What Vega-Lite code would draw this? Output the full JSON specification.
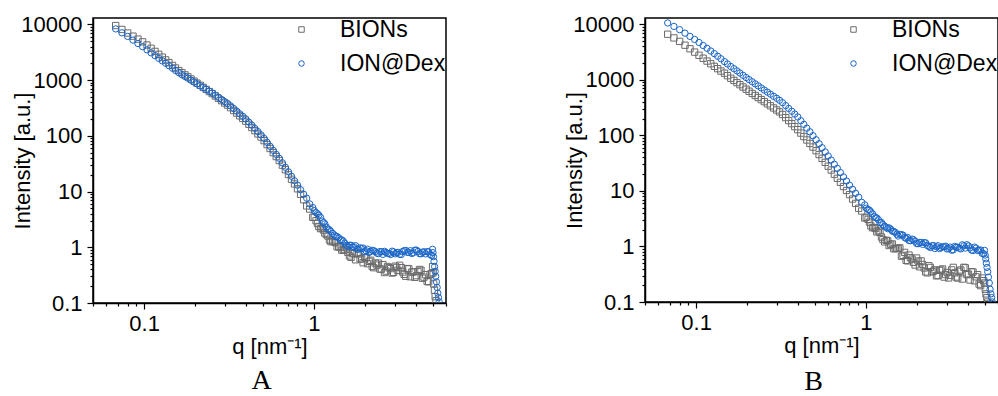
{
"$schema": "https://vega.github.io/schema/vega-lite/v6.json",
"padding": {"left": 11, "top": 12, "right": 0, "bottom": 0},
"spacing": 115,
"config": {
  "view": {"stroke": "black", "strokeWidth": 1.5},
  "font": "Liberation Sans",
  "axis": {"labelFontSize": 22, "titleFontSize": 22, "labelFont": "Liberation Sans", "titleFont": "Liberation Sans", "titleFontWeight": "normal", "labelColor": "black", "titleColor": "black", "domainColor": "black", "tickColor": "black", "domainWidth": 1.5, "tickWidth": 1.2, "labelPadding": 4, "grid": false, "labelOverlap": false, "labelBound": false, "labelFlush": false},
  "legend": {"title": null, "orient": "top-right", "offset": 0, "padding": 0, "labelFontSize": 23, "labelFont": "Liberation Sans", "labelColor": "black", "symbolSize": 30, "symbolStrokeWidth": 1, "labelOffset": 27, "rowPadding": 10}
},
"resolve": {"legend": {"color": "independent", "shape": "independent"}},
"datasets": {
"A": [
{"s":"BIONs","q":0.068,"I":9510},{"s":"BIONs","q":0.074,"I":8100},{"s":"BIONs","q":0.080,"I":6990},{"s":"BIONs","q":0.086,"I":6140},{"s":"BIONs","q":0.092,"I":5440},{"s":"BIONs","q":0.098,"I":4850},{"s":"BIONs","q":0.104,"I":4260},{"s":"BIONs","q":0.110,"I":3720},{"s":"BIONs","q":0.116,"I":3270},{"s":"BIONs","q":0.122,"I":2900},{"s":"BIONs","q":0.128,"I":2580},{"s":"BIONs","q":0.134,"I":2300},{"s":"BIONs","q":0.140,"I":2060},{"s":"BIONs","q":0.147,"I":1830},{"s":"BIONs","q":0.153,"I":1650},{"s":"BIONs","q":0.160,"I":1480},{"s":"BIONs","q":0.167,"I":1360},{"s":"BIONs","q":0.174,"I":1240},{"s":"BIONs","q":0.181,"I":1145},{"s":"BIONs","q":0.189,"I":1046},{"s":"BIONs","q":0.197,"I":958},{"s":"BIONs","q":0.205,"I":881},{"s":"BIONs","q":0.214,"I":806},{"s":"BIONs","q":0.223,"I":739},{"s":"BIONs","q":0.232,"I":680},{"s":"BIONs","q":0.242,"I":622},{"s":"BIONs","q":0.252,"I":571},{"s":"BIONs","q":0.263,"I":518},{"s":"BIONs","q":0.274,"I":471},{"s":"BIONs","q":0.286,"I":427},{"s":"BIONs","q":0.298,"I":388},{"s":"BIONs","q":0.310,"I":355},{"s":"BIONs","q":0.323,"I":320},{"s":"BIONs","q":0.337,"I":285},{"s":"BIONs","q":0.351,"I":256},{"s":"BIONs","q":0.366,"I":228},{"s":"BIONs","q":0.381,"I":205},{"s":"BIONs","q":0.397,"I":183},{"s":"BIONs","q":0.414,"I":161},{"s":"BIONs","q":0.431,"I":141},{"s":"BIONs","q":0.449,"I":124},{"s":"BIONs","q":0.468,"I":108},{"s":"BIONs","q":0.488,"I":94.9},{"s":"BIONs","q":0.509,"I":81.9},{"s":"BIONs","q":0.530,"I":69.6},{"s":"BIONs","q":0.552,"I":59.2},{"s":"BIONs","q":0.576,"I":49.9},{"s":"BIONs","q":0.600,"I":42.4},{"s":"BIONs","q":0.625,"I":36.0},{"s":"BIONs","q":0.652,"I":29.7},{"s":"BIONs","q":0.679,"I":24.6},{"s":"BIONs","q":0.708,"I":20.2},{"s":"BIONs","q":0.738,"I":16.6},{"s":"BIONs","q":0.769,"I":13.7},{"s":"BIONs","q":0.801,"I":11.2},{"s":"BIONs","q":0.835,"I":8.93},{"s":"BIONs","q":0.870,"I":7.12},{"s":"BIONs","q":0.907,"I":5.52},{"s":"BIONs","q":0.945,"I":4.85},{"s":"BIONs","q":0.985,"I":3.45},{"s":"BIONs","q":1.03,"I":3.00},{"s":"BIONs","q":1.07,"I":2.36},{"s":"BIONs","q":1.12,"I":2.22},{"s":"BIONs","q":1.16,"I":1.80},{"s":"BIONs","q":1.21,"I":1.59},{"s":"BIONs","q":1.26,"I":1.26},{"s":"BIONs","q":1.32,"I":1.24},{"s":"BIONs","q":1.37,"I":1.02},{"s":"BIONs","q":1.43,"I":1.01},{"s":"BIONs","q":1.49,"I":0.885},{"s":"BIONs","q":1.55,"I":0.98},{"s":"BIONs","q":1.62,"I":0.70},{"s":"BIONs","q":1.69,"I":0.767},{"s":"BIONs","q":1.76,"I":0.596},{"s":"BIONs","q":1.83,"I":0.760},{"s":"BIONs","q":1.91,"I":0.615},{"s":"BIONs","q":1.99,"I":0.655},{"s":"BIONs","q":2.07,"I":0.507},{"s":"BIONs","q":2.16,"I":0.585},{"s":"BIONs","q":2.25,"I":0.430},{"s":"BIONs","q":2.35,"I":0.479},{"s":"BIONs","q":2.45,"I":0.407},{"s":"BIONs","q":2.55,"I":0.489},{"s":"BIONs","q":2.66,"I":0.374},{"s":"BIONs","q":2.77,"I":0.429},{"s":"BIONs","q":2.89,"I":0.345},{"s":"BIONs","q":3.01,"I":0.457},{"s":"BIONs","q":3.13,"I":0.386},{"s":"BIONs","q":3.27,"I":0.431},{"s":"BIONs","q":3.40,"I":0.327},{"s":"BIONs","q":3.55,"I":0.415},{"s":"BIONs","q":3.70,"I":0.296},{"s":"BIONs","q":3.85,"I":0.362},{"s":"BIONs","q":4.02,"I":0.309},{"s":"BIONs","q":4.19,"I":0.400},{"s":"BIONs","q":4.36,"I":0.278},{"s":"BIONs","q":4.55,"I":0.323},{"s":"BIONs","q":4.74,"I":0.240},{"s":"BIONs","q":4.94,"I":0.336},{"s":"BIONs","q":5.00,"I":0.45},{"s":"BIONs","q":5.04,"I":0.35},{"s":"BIONs","q":5.08,"I":0.22},{"s":"BIONs","q":5.13,"I":0.17},{"s":"BIONs","q":5.18,"I":0.13},{"s":"BIONs","q":5.24,"I":0.11},
{"s":"BIONs","q":1.005,"I":3.48},{"s":"BIONs","q":1.05,"I":2.67},{"s":"BIONs","q":1.095,"I":2.16},{"s":"BIONs","q":1.14,"I":2.04},{"s":"BIONs","q":1.185,"I":1.69},{"s":"BIONs","q":1.235,"I":1.35},{"s":"BIONs","q":1.29,"I":1.29},{"s":"BIONs","q":1.345,"I":1.21},{"s":"BIONs","q":1.40,"I":1.02},{"s":"BIONs","q":1.46,"I":0.891},{"s":"BIONs","q":1.52,"I":0.907},{"s":"BIONs","q":1.585,"I":0.813},{"s":"BIONs","q":1.655,"I":0.659},{"s":"BIONs","q":1.725,"I":0.775},{"s":"BIONs","q":1.795,"I":0.791},{"s":"BIONs","q":1.87,"I":0.620},{"s":"BIONs","q":1.95,"I":0.528},{"s":"BIONs","q":2.03,"I":0.646},{"s":"BIONs","q":2.115,"I":0.559},{"s":"BIONs","q":2.205,"I":0.452},{"s":"BIONs","q":2.30,"I":0.520},{"s":"BIONs","q":2.40,"I":0.519},{"s":"BIONs","q":2.50,"I":0.405},{"s":"BIONs","q":2.605,"I":0.352},{"s":"BIONs","q":2.715,"I":0.452},{"s":"BIONs","q":2.83,"I":0.414},{"s":"BIONs","q":2.95,"I":0.354},{"s":"BIONs","q":3.07,"I":0.434},{"s":"BIONs","q":3.20,"I":0.475},{"s":"BIONs","q":3.335,"I":0.360},{"s":"BIONs","q":3.475,"I":0.302},{"s":"BIONs","q":3.625,"I":0.410},{"s":"BIONs","q":3.775,"I":0.359},{"s":"BIONs","q":3.935,"I":0.289},{"s":"BIONs","q":4.105,"I":0.366},{"s":"BIONs","q":4.275,"I":0.386},{"s":"BIONs","q":4.455,"I":0.291},{"s":"BIONs","q":4.645,"I":0.244},{"s":"BIONs","q":4.84,"I":0.328},
{"s":"ION@Dex","q":0.068,"I":8280},{"s":"ION@Dex","q":0.074,"I":7050},{"s":"ION@Dex","q":0.080,"I":6070},{"s":"ION@Dex","q":0.086,"I":5220},{"s":"ION@Dex","q":0.092,"I":4530},{"s":"ION@Dex","q":0.098,"I":3970},{"s":"ION@Dex","q":0.104,"I":3490},{"s":"ION@Dex","q":0.110,"I":3080},{"s":"ION@Dex","q":0.116,"I":2740},{"s":"ION@Dex","q":0.122,"I":2450},{"s":"ION@Dex","q":0.128,"I":2210},{"s":"ION@Dex","q":0.134,"I":2000},{"s":"ION@Dex","q":0.140,"I":1810},{"s":"ION@Dex","q":0.147,"I":1630},{"s":"ION@Dex","q":0.153,"I":1490},{"s":"ION@Dex","q":0.160,"I":1360},{"s":"ION@Dex","q":0.167,"I":1250},{"s":"ION@Dex","q":0.174,"I":1160},{"s":"ION@Dex","q":0.181,"I":1080},{"s":"ION@Dex","q":0.189,"I":996},{"s":"ION@Dex","q":0.197,"I":923},{"s":"ION@Dex","q":0.205,"I":857},{"s":"ION@Dex","q":0.214,"I":792},{"s":"ION@Dex","q":0.223,"I":734},{"s":"ION@Dex","q":0.232,"I":682},{"s":"ION@Dex","q":0.242,"I":631},{"s":"ION@Dex","q":0.252,"I":585},{"s":"ION@Dex","q":0.263,"I":535},{"s":"ION@Dex","q":0.274,"I":490},{"s":"ION@Dex","q":0.286,"I":448},{"s":"ION@Dex","q":0.298,"I":411},{"s":"ION@Dex","q":0.310,"I":379},{"s":"ION@Dex","q":0.323,"I":344},{"s":"ION@Dex","q":0.337,"I":308},{"s":"ION@Dex","q":0.351,"I":277},{"s":"ION@Dex","q":0.366,"I":248},{"s":"ION@Dex","q":0.381,"I":224},{"s":"ION@Dex","q":0.397,"I":201},{"s":"ION@Dex","q":0.414,"I":176},{"s":"ION@Dex","q":0.431,"I":155},{"s":"ION@Dex","q":0.449,"I":136},{"s":"ION@Dex","q":0.468,"I":119},{"s":"ION@Dex","q":0.488,"I":104},{"s":"ION@Dex","q":0.509,"I":89.8},{"s":"ION@Dex","q":0.530,"I":76.3},{"s":"ION@Dex","q":0.552,"I":64.9},{"s":"ION@Dex","q":0.576,"I":54.8},{"s":"ION@Dex","q":0.600,"I":46.5},{"s":"ION@Dex","q":0.625,"I":39.5},{"s":"ION@Dex","q":0.652,"I":32.8},{"s":"ION@Dex","q":0.679,"I":27.3},{"s":"ION@Dex","q":0.708,"I":22.6},{"s":"ION@Dex","q":0.738,"I":18.8},{"s":"ION@Dex","q":0.769,"I":15.6},{"s":"ION@Dex","q":0.801,"I":13.0},{"s":"ION@Dex","q":0.835,"I":10.8},{"s":"ION@Dex","q":0.870,"I":8.96},{"s":"ION@Dex","q":0.907,"I":7.59},{"s":"ION@Dex","q":0.945,"I":5.99},{"s":"ION@Dex","q":0.985,"I":5.16},{"s":"ION@Dex","q":1.03,"I":4.18},{"s":"ION@Dex","q":1.07,"I":3.76},{"s":"ION@Dex","q":1.12,"I":2.95},{"s":"ION@Dex","q":1.16,"I":2.63},{"s":"ION@Dex","q":1.21,"I":2.12},{"s":"ION@Dex","q":1.26,"I":1.91},{"s":"ION@Dex","q":1.32,"I":1.66},{"s":"ION@Dex","q":1.37,"I":1.56},{"s":"ION@Dex","q":1.43,"I":1.36},{"s":"ION@Dex","q":1.49,"I":1.29},{"s":"ION@Dex","q":1.55,"I":1.08},{"s":"ION@Dex","q":1.62,"I":1.085},{"s":"ION@Dex","q":1.69,"I":1.00},{"s":"ION@Dex","q":1.76,"I":1.07},{"s":"ION@Dex","q":1.83,"I":0.924},{"s":"ION@Dex","q":1.91,"I":0.946},{"s":"ION@Dex","q":1.99,"I":0.833},{"s":"ION@Dex","q":2.07,"I":0.925},{"s":"ION@Dex","q":2.16,"I":0.844},{"s":"ION@Dex","q":2.25,"I":0.868},{"s":"ION@Dex","q":2.35,"I":0.782},{"s":"ION@Dex","q":2.45,"I":0.838},{"s":"ION@Dex","q":2.55,"I":0.746},{"s":"ION@Dex","q":2.66,"I":0.805},{"s":"ION@Dex","q":2.77,"I":0.773},{"s":"ION@Dex","q":2.89,"I":0.851},{"s":"ION@Dex","q":3.01,"I":0.761},{"s":"ION@Dex","q":3.13,"I":0.811},{"s":"ION@Dex","q":3.27,"I":0.740},{"s":"ION@Dex","q":3.40,"I":0.866},{"s":"ION@Dex","q":3.55,"I":0.809},{"s":"ION@Dex","q":3.70,"I":0.867},{"s":"ION@Dex","q":3.85,"I":0.797},{"s":"ION@Dex","q":4.02,"I":0.888},{"s":"ION@Dex","q":4.19,"I":0.767},{"s":"ION@Dex","q":4.36,"I":0.819},{"s":"ION@Dex","q":4.55,"I":0.761},{"s":"ION@Dex","q":4.74,"I":0.830},{"s":"ION@Dex","q":4.94,"I":0.713},{"s":"ION@Dex","q":5.00,"I":0.92},{"s":"ION@Dex","q":5.03,"I":0.80},{"s":"ION@Dex","q":5.06,"I":0.68},{"s":"ION@Dex","q":5.10,"I":0.56},{"s":"ION@Dex","q":5.14,"I":0.45},{"s":"ION@Dex","q":5.18,"I":0.37},{"s":"ION@Dex","q":5.22,"I":0.30},{"s":"ION@Dex","q":5.27,"I":0.24},{"s":"ION@Dex","q":5.32,"I":0.19},{"s":"ION@Dex","q":5.37,"I":0.15},{"s":"ION@Dex","q":5.42,"I":0.125},{"s":"ION@Dex","q":5.47,"I":0.105},
{"s":"ION@Dex","q":1.005,"I":4.55},{"s":"ION@Dex","q":1.05,"I":4.00},{"s":"ION@Dex","q":1.095,"I":3.42},{"s":"ION@Dex","q":1.14,"I":2.77},{"s":"ION@Dex","q":1.185,"I":2.31},{"s":"ION@Dex","q":1.235,"I":2.06},{"s":"ION@Dex","q":1.29,"I":1.77},{"s":"ION@Dex","q":1.345,"I":1.56},{"s":"ION@Dex","q":1.40,"I":1.48},{"s":"ION@Dex","q":1.46,"I":1.36},{"s":"ION@Dex","q":1.52,"I":1.19},{"s":"ION@Dex","q":1.585,"I":1.04},{"s":"ION@Dex","q":1.655,"I":1.09},{"s":"ION@Dex","q":1.725,"I":1.02},{"s":"ION@Dex","q":1.795,"I":0.927},{"s":"ION@Dex","q":1.87,"I":0.978},{"s":"ION@Dex","q":1.95,"I":0.968},{"s":"ION@Dex","q":2.03,"I":0.866},{"s":"ION@Dex","q":2.115,"I":0.807},{"s":"ION@Dex","q":2.205,"I":0.883},{"s":"ION@Dex","q":2.30,"I":0.836},{"s":"ION@Dex","q":2.40,"I":0.768},{"s":"ION@Dex","q":2.50,"I":0.827},{"s":"ION@Dex","q":2.605,"I":0.845},{"s":"ION@Dex","q":2.715,"I":0.777},{"s":"ION@Dex","q":2.83,"I":0.741},{"s":"ION@Dex","q":2.95,"I":0.827},{"s":"ION@Dex","q":3.07,"I":0.800},{"s":"ION@Dex","q":3.20,"I":0.748},{"s":"ION@Dex","q":3.335,"I":0.840},{"s":"ION@Dex","q":3.475,"I":0.878},{"s":"ION@Dex","q":3.625,"I":0.807},{"s":"ION@Dex","q":3.775,"I":0.773},{"s":"ION@Dex","q":3.935,"I":0.887},{"s":"ION@Dex","q":4.105,"I":0.842},{"s":"ION@Dex","q":4.275,"I":0.764},{"s":"ION@Dex","q":4.455,"I":0.829},{"s":"ION@Dex","q":4.645,"I":0.834},{"s":"ION@Dex","q":4.84,"I":0.739}
],
"B": [
{"s":"BIONs","q":0.068,"I":6630},{"s":"BIONs","q":0.074,"I":5690},{"s":"BIONs","q":0.080,"I":4930},{"s":"BIONs","q":0.086,"I":4210},{"s":"BIONs","q":0.092,"I":3630},{"s":"BIONs","q":0.098,"I":3160},{"s":"BIONs","q":0.104,"I":2770},{"s":"BIONs","q":0.110,"I":2450},{"s":"BIONs","q":0.116,"I":2180},{"s":"BIONs","q":0.122,"I":1950},{"s":"BIONs","q":0.128,"I":1750},{"s":"BIONs","q":0.134,"I":1590},{"s":"BIONs","q":0.140,"I":1440},{"s":"BIONs","q":0.147,"I":1320},{"s":"BIONs","q":0.153,"I":1190},{"s":"BIONs","q":0.160,"I":1070},{"s":"BIONs","q":0.167,"I":977},{"s":"BIONs","q":0.174,"I":893},{"s":"BIONs","q":0.181,"I":819},{"s":"BIONs","q":0.189,"I":744},{"s":"BIONs","q":0.197,"I":679},{"s":"BIONs","q":0.205,"I":624},{"s":"BIONs","q":0.214,"I":570},{"s":"BIONs","q":0.223,"I":523},{"s":"BIONs","q":0.232,"I":481},{"s":"BIONs","q":0.242,"I":441},{"s":"BIONs","q":0.252,"I":405},{"s":"BIONs","q":0.263,"I":371},{"s":"BIONs","q":0.274,"I":341},{"s":"BIONs","q":0.286,"I":312},{"s":"BIONs","q":0.298,"I":287},{"s":"BIONs","q":0.310,"I":265},{"s":"BIONs","q":0.323,"I":238},{"s":"BIONs","q":0.337,"I":209},{"s":"BIONs","q":0.351,"I":185},{"s":"BIONs","q":0.366,"I":163},{"s":"BIONs","q":0.381,"I":144},{"s":"BIONs","q":0.397,"I":127},{"s":"BIONs","q":0.414,"I":110},{"s":"BIONs","q":0.431,"I":95.3},{"s":"BIONs","q":0.449,"I":82.7},{"s":"BIONs","q":0.468,"I":71.5},{"s":"BIONs","q":0.488,"I":61.7},{"s":"BIONs","q":0.509,"I":53.0},{"s":"BIONs","q":0.530,"I":45.2},{"s":"BIONs","q":0.552,"I":38.6},{"s":"BIONs","q":0.576,"I":32.7},{"s":"BIONs","q":0.600,"I":27.9},{"s":"BIONs","q":0.625,"I":23.8},{"s":"BIONs","q":0.652,"I":20.0},{"s":"BIONs","q":0.679,"I":16.9},{"s":"BIONs","q":0.708,"I":14.3},{"s":"BIONs","q":0.738,"I":12.0},{"s":"BIONs","q":0.769,"I":10.2},{"s":"BIONs","q":0.801,"I":8.59},{"s":"BIONs","q":0.835,"I":7.15},{"s":"BIONs","q":0.870,"I":5.97},{"s":"BIONs","q":0.907,"I":4.88},{"s":"BIONs","q":0.945,"I":4.35},{"s":"BIONs","q":0.985,"I":3.25},{"s":"BIONs","q":1.03,"I":3.08},{"s":"BIONs","q":1.07,"I":2.34},{"s":"BIONs","q":1.12,"I":2.19},{"s":"BIONs","q":1.16,"I":1.83},{"s":"BIONs","q":1.21,"I":1.79},{"s":"BIONs","q":1.26,"I":1.33},{"s":"BIONs","q":1.32,"I":1.29},{"s":"BIONs","q":1.37,"I":1.04},{"s":"BIONs","q":1.43,"I":1.11},{"s":"BIONs","q":1.49,"I":0.913},{"s":"BIONs","q":1.55,"I":0.92},{"s":"BIONs","q":1.62,"I":0.668},{"s":"BIONs","q":1.69,"I":0.782},{"s":"BIONs","q":1.76,"I":0.551},{"s":"BIONs","q":1.83,"I":0.627},{"s":"BIONs","q":1.91,"I":0.517},{"s":"BIONs","q":1.99,"I":0.619},{"s":"BIONs","q":2.07,"I":0.431},{"s":"BIONs","q":2.16,"I":0.474},{"s":"BIONs","q":2.25,"I":0.348},{"s":"BIONs","q":2.35,"I":0.450},{"s":"BIONs","q":2.45,"I":0.349},{"s":"BIONs","q":2.55,"I":0.378},{"s":"BIONs","q":2.66,"I":0.300},{"s":"BIONs","q":2.77,"I":0.376},{"s":"BIONs","q":2.89,"I":0.281},{"s":"BIONs","q":3.01,"I":0.340},{"s":"BIONs","q":3.13,"I":0.301},{"s":"BIONs","q":3.27,"I":0.420},{"s":"BIONs","q":3.40,"I":0.282},{"s":"BIONs","q":3.55,"I":0.357},{"s":"BIONs","q":3.70,"I":0.259},{"s":"BIONs","q":3.85,"I":0.413},{"s":"BIONs","q":4.02,"I":0.317},{"s":"BIONs","q":4.19,"I":0.351},{"s":"BIONs","q":4.36,"I":0.241},{"s":"BIONs","q":4.55,"I":0.311},{"s":"BIONs","q":4.74,"I":0.197},{"s":"BIONs","q":4.94,"I":0.242},{"s":"BIONs","q":5.00,"I":0.22},{"s":"BIONs","q":5.05,"I":0.17},{"s":"BIONs","q":5.10,"I":0.14},{"s":"BIONs","q":5.16,"I":0.12},{"s":"BIONs","q":5.22,"I":0.10},
{"s":"BIONs","q":1.005,"I":3.36},{"s":"BIONs","q":1.05,"I":2.74},{"s":"BIONs","q":1.095,"I":2.17},{"s":"BIONs","q":1.14,"I":2.11},{"s":"BIONs","q":1.185,"I":1.91},{"s":"BIONs","q":1.235,"I":1.48},{"s":"BIONs","q":1.29,"I":1.21},{"s":"BIONs","q":1.345,"I":1.26},{"s":"BIONs","q":1.40,"I":1.09},{"s":"BIONs","q":1.46,"I":0.910},{"s":"BIONs","q":1.52,"I":0.927},{"s":"BIONs","q":1.585,"I":0.944},{"s":"BIONs","q":1.655,"I":0.691},{"s":"BIONs","q":1.725,"I":0.562},{"s":"BIONs","q":1.795,"I":0.700},{"s":"BIONs","q":1.87,"I":0.591},{"s":"BIONs","q":1.95,"I":0.463},{"s":"BIONs","q":2.03,"I":0.546},{"s":"BIONs","q":2.115,"I":0.549},{"s":"BIONs","q":2.205,"I":0.410},{"s":"BIONs","q":2.30,"I":0.335},{"s":"BIONs","q":2.40,"I":0.419},{"s":"BIONs","q":2.50,"I":0.360},{"s":"BIONs","q":2.605,"I":0.296},{"s":"BIONs","q":2.715,"I":0.372},{"s":"BIONs","q":2.83,"I":0.394},{"s":"BIONs","q":2.95,"I":0.312},{"s":"BIONs","q":3.07,"I":0.271},{"s":"BIONs","q":3.20,"I":0.378},{"s":"BIONs","q":3.335,"I":0.335},{"s":"BIONs","q":3.475,"I":0.270},{"s":"BIONs","q":3.625,"I":0.377},{"s":"BIONs","q":3.775,"I":0.421},{"s":"BIONs","q":3.935,"I":0.311},{"s":"BIONs","q":4.105,"I":0.249},{"s":"BIONs","q":4.275,"I":0.347},{"s":"BIONs","q":4.455,"I":0.284},{"s":"BIONs","q":4.645,"I":0.210},{"s":"BIONs","q":4.84,"I":0.270},
{"s":"ION@Dex","q":0.068,"I":10590},{"s":"ION@Dex","q":0.074,"I":9170},{"s":"ION@Dex","q":0.080,"I":8010},{"s":"ION@Dex","q":0.086,"I":6930},{"s":"ION@Dex","q":0.092,"I":6060},{"s":"ION@Dex","q":0.098,"I":5340},{"s":"ION@Dex","q":0.104,"I":4710},{"s":"ION@Dex","q":0.110,"I":4160},{"s":"ION@Dex","q":0.116,"I":3700},{"s":"ION@Dex","q":0.122,"I":3310},{"s":"ION@Dex","q":0.128,"I":2970},{"s":"ION@Dex","q":0.134,"I":2660},{"s":"ION@Dex","q":0.140,"I":2400},{"s":"ION@Dex","q":0.147,"I":2130},{"s":"ION@Dex","q":0.153,"I":1930},{"s":"ION@Dex","q":0.160,"I":1740},{"s":"ION@Dex","q":0.167,"I":1590},{"s":"ION@Dex","q":0.174,"I":1450},{"s":"ION@Dex","q":0.181,"I":1330},{"s":"ION@Dex","q":0.189,"I":1207},{"s":"ION@Dex","q":0.197,"I":1102},{"s":"ION@Dex","q":0.205,"I":1012},{"s":"ION@Dex","q":0.214,"I":925},{"s":"ION@Dex","q":0.223,"I":848},{"s":"ION@Dex","q":0.232,"I":780},{"s":"ION@Dex","q":0.242,"I":714},{"s":"ION@Dex","q":0.252,"I":656},{"s":"ION@Dex","q":0.263,"I":601},{"s":"ION@Dex","q":0.274,"I":553},{"s":"ION@Dex","q":0.286,"I":506},{"s":"ION@Dex","q":0.298,"I":466},{"s":"ION@Dex","q":0.310,"I":429},{"s":"ION@Dex","q":0.323,"I":388},{"s":"ION@Dex","q":0.337,"I":344},{"s":"ION@Dex","q":0.351,"I":306},{"s":"ION@Dex","q":0.366,"I":272},{"s":"ION@Dex","q":0.381,"I":242},{"s":"ION@Dex","q":0.397,"I":215},{"s":"ION@Dex","q":0.414,"I":184},{"s":"ION@Dex","q":0.431,"I":158},{"s":"ION@Dex","q":0.449,"I":135},{"s":"ION@Dex","q":0.468,"I":116},{"s":"ION@Dex","q":0.488,"I":98.6},{"s":"ION@Dex","q":0.509,"I":83.6},{"s":"ION@Dex","q":0.530,"I":70.9},{"s":"ION@Dex","q":0.552,"I":60.0},{"s":"ION@Dex","q":0.576,"I":50.4},{"s":"ION@Dex","q":0.600,"I":42.6},{"s":"ION@Dex","q":0.625,"I":36.0},{"s":"ION@Dex","q":0.652,"I":30.2},{"s":"ION@Dex","q":0.679,"I":25.5},{"s":"ION@Dex","q":0.708,"I":21.4},{"s":"ION@Dex","q":0.738,"I":17.9},{"s":"ION@Dex","q":0.769,"I":15.1},{"s":"ION@Dex","q":0.801,"I":12.7},{"s":"ION@Dex","q":0.835,"I":10.7},{"s":"ION@Dex","q":0.870,"I":9.08},{"s":"ION@Dex","q":0.907,"I":7.73},{"s":"ION@Dex","q":0.945,"I":6.25},{"s":"ION@Dex","q":0.985,"I":5.61},{"s":"ION@Dex","q":1.03,"I":4.64},{"s":"ION@Dex","q":1.07,"I":4.20},{"s":"ION@Dex","q":1.12,"I":3.48},{"s":"ION@Dex","q":1.16,"I":3.26},{"s":"ION@Dex","q":1.21,"I":2.70},{"s":"ION@Dex","q":1.26,"I":2.47},{"s":"ION@Dex","q":1.32,"I":2.21},{"s":"ION@Dex","q":1.37,"I":2.16},{"s":"ION@Dex","q":1.43,"I":1.89},{"s":"ION@Dex","q":1.49,"I":1.80},{"s":"ION@Dex","q":1.55,"I":1.54},{"s":"ION@Dex","q":1.62,"I":1.63},{"s":"ION@Dex","q":1.69,"I":1.45},{"s":"ION@Dex","q":1.76,"I":1.45},{"s":"ION@Dex","q":1.83,"I":1.27},{"s":"ION@Dex","q":1.91,"I":1.32},{"s":"ION@Dex","q":1.99,"I":1.13},{"s":"ION@Dex","q":2.07,"I":1.18},{"s":"ION@Dex","q":2.16,"I":1.09},{"s":"ION@Dex","q":2.25,"I":1.16},{"s":"ION@Dex","q":2.35,"I":1.00},{"s":"ION@Dex","q":2.45,"I":1.03},{"s":"ION@Dex","q":2.55,"I":0.919},{"s":"ION@Dex","q":2.66,"I":1.03},{"s":"ION@Dex","q":2.77,"I":0.951},{"s":"ION@Dex","q":2.89,"I":0.987},{"s":"ION@Dex","q":3.01,"I":0.901},{"s":"ION@Dex","q":3.13,"I":0.975},{"s":"ION@Dex","q":3.27,"I":0.868},{"s":"ION@Dex","q":3.40,"I":0.972},{"s":"ION@Dex","q":3.55,"I":0.931},{"s":"ION@Dex","q":3.70,"I":1.07},{"s":"ION@Dex","q":3.85,"I":0.936},{"s":"ION@Dex","q":4.02,"I":1.02},{"s":"ION@Dex","q":4.19,"I":0.862},{"s":"ION@Dex","q":4.36,"I":0.974},{"s":"ION@Dex","q":4.55,"I":0.847},{"s":"ION@Dex","q":4.74,"I":0.864},{"s":"ION@Dex","q":4.94,"I":0.740},{"s":"ION@Dex","q":5.00,"I":0.85},{"s":"ION@Dex","q":5.04,"I":0.70},{"s":"ION@Dex","q":5.08,"I":0.60},{"s":"ION@Dex","q":5.12,"I":0.50},{"s":"ION@Dex","q":5.17,"I":0.42},{"s":"ION@Dex","q":5.22,"I":0.35},{"s":"ION@Dex","q":5.27,"I":0.28},{"s":"ION@Dex","q":5.33,"I":0.22},{"s":"ION@Dex","q":5.39,"I":0.17},{"s":"ION@Dex","q":5.45,"I":0.14},{"s":"ION@Dex","q":5.50,"I":0.12},{"s":"ION@Dex","q":5.55,"I":0.10},
{"s":"ION@Dex","q":1.005,"I":4.89},{"s":"ION@Dex","q":1.05,"I":4.49},{"s":"ION@Dex","q":1.095,"I":3.86},{"s":"ION@Dex","q":1.14,"I":3.29},{"s":"ION@Dex","q":1.185,"I":3.04},{"s":"ION@Dex","q":1.235,"I":2.70},{"s":"ION@Dex","q":1.29,"I":2.32},{"s":"ION@Dex","q":1.345,"I":2.09},{"s":"ION@Dex","q":1.40,"I":2.05},{"s":"ION@Dex","q":1.46,"I":1.86},{"s":"ION@Dex","q":1.52,"I":1.66},{"s":"ION@Dex","q":1.585,"I":1.65},{"s":"ION@Dex","q":1.655,"I":1.60},{"s":"ION@Dex","q":1.725,"I":1.40},{"s":"ION@Dex","q":1.795,"I":1.275},{"s":"ION@Dex","q":1.87,"I":1.355},{"s":"ION@Dex","q":1.95,"I":1.245},{"s":"ION@Dex","q":2.03,"I":1.121},{"s":"ION@Dex","q":2.115,"I":1.184},{"s":"ION@Dex","q":2.205,"I":1.175},{"s":"ION@Dex","q":2.30,"I":1.043},{"s":"ION@Dex","q":2.40,"I":0.959},{"s":"ION@Dex","q":2.50,"I":1.039},{"s":"ION@Dex","q":2.605,"I":0.987},{"s":"ION@Dex","q":2.715,"I":0.918},{"s":"ION@Dex","q":2.83,"I":0.994},{"s":"ION@Dex","q":2.95,"I":1.011},{"s":"ION@Dex","q":3.07,"I":0.920},{"s":"ION@Dex","q":3.20,"I":0.857},{"s":"ION@Dex","q":3.335,"I":1.002},{"s":"ION@Dex","q":3.475,"I":0.969},{"s":"ION@Dex","q":3.625,"I":0.903},{"s":"ION@Dex","q":3.775,"I":1.030},{"s":"ION@Dex","q":3.935,"I":1.075},{"s":"ION@Dex","q":4.105,"I":0.941},{"s":"ION@Dex","q":4.275,"I":0.844},{"s":"ION@Dex","q":4.455,"I":0.934},{"s":"ION@Dex","q":4.645,"I":0.852},{"s":"ION@Dex","q":4.84,"I":0.750}
]
},
"hconcat": [
{
  "data": {"name": "A"},
  "width": 353, "height": 285,
  "title": {"text": "A", "orient": "bottom", "font": "Liberation Serif", "fontSize": 28, "fontWeight": "normal", "color": "black", "offset": 10, "dx": -8},
  "mark": {"type": "point", "filled": false, "strokeWidth": 1, "size": 40, "opacity": 1, "clip": true},
  "encoding": {
    "x": {"field": "q", "type": "quantitative", "scale": {"type": "log", "domain": [0.05, 6], "nice": false},
      "axis": {"title": "q [nm⁻¹]", "titlePadding": 2, "format": "~g", "values": [0.05,0.06,0.07,0.08,0.09,0.1,0.2,0.3,0.4,0.5,0.6,0.7,0.8,0.9,1,2,3,4,5,6],
        "labelExpr": "datum.value == 0.1 || datum.value == 1 ? datum.label : ''",
        "tickSize": {"condition": {"test": "datum.value == 0.1 || datum.value == 1", "value": 6}, "value": 3}}},
    "y": {"field": "I", "type": "quantitative", "scale": {"type": "log", "domain": [0.1, 13000], "nice": false},
      "axis": {"title": "Intensity [a.u.]", "titlePadding": -14, "labelPadding": 5, "format": "~g", "values": [0.1,0.2,0.3,0.4,0.5,0.6,0.7,0.8,0.9,1,2,3,4,5,6,7,8,9,10,20,30,40,50,60,70,80,90,100,200,300,400,500,600,700,800,900,1000,2000,3000,4000,5000,6000,7000,8000,9000,10000],
        "labelExpr": "indexof([0.1,1,10,100,1000,10000], datum.value) >= 0 ? datum.label : ''",
        "tickSize": {"condition": {"test": "indexof([0.1,1,10,100,1000,10000], datum.value) >= 0", "value": 6}, "value": 3}}},
    "color": {"field": "s", "type": "nominal", "scale": {"domain": ["BIONs", "ION@Dex"], "range": ["#6b6b6b", "#1a66c8"]}},
    "shape": {"field": "s", "type": "nominal", "scale": {"domain": ["BIONs", "ION@Dex"], "range": ["square", "circle"]}}
  }
},
{
  "data": {"name": "B"},
  "width": 353, "height": 284,
  "title": {"text": "B", "orient": "bottom", "font": "Liberation Serif", "fontSize": 28, "fontWeight": "normal", "color": "black", "offset": 12, "dx": -8},
  "mark": {"type": "point", "filled": false, "strokeWidth": 1, "size": 40, "opacity": 1, "clip": true},
  "encoding": {
    "x": {"field": "q", "type": "quantitative", "scale": {"type": "log", "domain": [0.05, 6], "nice": false},
      "axis": {"title": "q [nm⁻¹]", "titlePadding": 2, "format": "~g", "values": [0.05,0.06,0.07,0.08,0.09,0.1,0.2,0.3,0.4,0.5,0.6,0.7,0.8,0.9,1,2,3,4,5,6],
        "labelExpr": "datum.value == 0.1 || datum.value == 1 ? datum.label : ''",
        "tickSize": {"condition": {"test": "datum.value == 0.1 || datum.value == 1", "value": 6}, "value": 3}}},
    "y": {"field": "I", "type": "quantitative", "scale": {"type": "log", "domain": [0.1, 13000], "nice": false},
      "axis": {"title": "Intensity [a.u.]", "titlePadding": -14, "labelPadding": 5, "format": "~g", "values": [0.1,0.2,0.3,0.4,0.5,0.6,0.7,0.8,0.9,1,2,3,4,5,6,7,8,9,10,20,30,40,50,60,70,80,90,100,200,300,400,500,600,700,800,900,1000,2000,3000,4000,5000,6000,7000,8000,9000,10000],
        "labelExpr": "indexof([0.1,1,10,100,1000,10000], datum.value) >= 0 ? datum.label : ''",
        "tickSize": {"condition": {"test": "indexof([0.1,1,10,100,1000,10000], datum.value) >= 0", "value": 6}, "value": 3}}},
    "color": {"field": "s", "type": "nominal", "scale": {"domain": ["BIONs", "ION@Dex"], "range": ["#6b6b6b", "#1a66c8"]}},
    "shape": {"field": "s", "type": "nominal", "scale": {"domain": ["BIONs", "ION@Dex"], "range": ["square", "circle"]}}
  }
}
]
}
